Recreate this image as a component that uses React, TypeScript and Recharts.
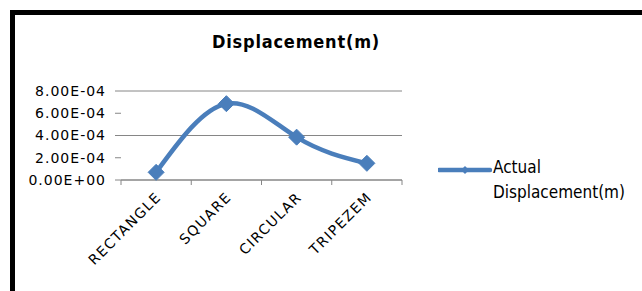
import React from 'react';
import { LineChart, Line, XAxis, YAxis, CartesianGrid } from 'recharts';

const shapes = ['RECTANGLE', 'SQUARE', 'CIRCULAR', 'TRIPEZEM'];
const displacement = [0.000069, 0.000686, 0.000385, 0.00015];
const yTicks = [0, 0.0002, 0.0004, 0.0006, 0.0008];

const BLUE = '#4A7EBB';
const GRID = '#868686';

const data = shapes.map((name, i) => ({ name, value: displacement[i] }));

// excel style: 8.00E-04
const fmtExp = (v: number) => {
  const [m, e] = v.toExponential(2).toUpperCase().split('E');
  const sign = e.startsWith('-') ? '-' : '+';
  const digits = e.replace(/[+-]/, '').padStart(2, '0');
  return `${m}E${sign}${digits}`;
};

const Diamond = (props: any) => {
  const { cx, cy } = props;
  if (cx == null || cy == null) return null;
  const r = 8;
  return (
    <polygon
      points={`${cx},${cy - r} ${cx + r},${cy} ${cx},${cy + r} ${cx - r},${cy}`}
      fill={BLUE}
      stroke={BLUE}
    />
  );
};

const XTick = (props: any) => {
  const { x, y, payload, index, visibleTicksCount, width } = props;
  const half = payload?.offset || (width && visibleTicksCount ? width / visibleTicksCount / 2 : 35);
  const tx = x + 6;
  const ty = y + 18;
  return (
    <g>
      {index === 0 && <line x1={x - half} y1={y} x2={x - half} y2={y + 5} stroke={GRID} />}
      <line x1={x + half} y1={y} x2={x + half} y2={y + 5} stroke={GRID} />
      <text
        x={tx}
        y={ty}
        textAnchor="end"
        transform={`rotate(-45, ${tx}, ${ty})`}
        fontFamily="DejaVu Sans"
        fontSize={14}
        letterSpacing={1.4}
        fill="#000"
      >
        {payload.value}
      </text>
    </g>
  );
};

export default function App() {
  return (
    <div style={{ position: 'absolute', left: 0, top: 0, width: 642, height: 291, overflow: 'hidden', background: '#fff' }}>
      <div
        style={{
          position: 'absolute',
          left: 10,
          top: 10,
          width: 700,
          height: 400,
          borderLeft: '5px solid #000',
          borderTop: '5px solid #000',
        }}
      />
      <div
        style={{
          position: 'absolute',
          left: 0,
          top: 33,
          width: 592,
          textAlign: 'center',
          fontFamily: 'DejaVu Sans Condensed',
          fontWeight: 'bold',
          fontSize: 18,
          lineHeight: '18px',
          letterSpacing: 0.8,
          color: '#000',
        }}
      >
        Displacement(m)
      </div>

      <div style={{ position: 'absolute', left: 0, top: 0 }}>
        <LineChart width={642} height={291} data={data} margin={{ top: 91, right: 240, bottom: 31, left: 0 }}>
          <CartesianGrid vertical={false} stroke={GRID} />
          <XAxis
            dataKey="name"
            scale="band"
            height={80}
            interval={0}
            axisLine={{ stroke: GRID }}
            tickLine={false}
            tickSize={0}
            tickMargin={0}
            tick={<XTick />}
          />
          <YAxis
            width={121}
            domain={[0, 0.0008]}
            ticks={yTicks}
            tickFormatter={fmtExp}
            axisLine={false}
            tickLine={{ stroke: GRID }}
            tickSize={6}
            tickMargin={9}
            tick={{ fill: '#000', fontFamily: 'DejaVu Sans', fontSize: 14, letterSpacing: 1 }}
          />
          <Line
            type="natural"
            dataKey="value"
            stroke={BLUE}
            strokeWidth={4.5}
            dot={<Diamond />}
            activeDot={false}
            isAnimationActive={false}
          />
        </LineChart>
      </div>

      <div style={{ position: 'absolute', left: 438, top: 163 }}>
        <svg width={54} height={12}>
          <line x1={1} y1={5} x2={52} y2={5} stroke={BLUE} strokeWidth={4.5} strokeLinecap="round" />
          <polygon points="27,1 31,5 27,9 23,5" fill={BLUE} />
        </svg>
      </div>
      <div
        style={{
          position: 'absolute',
          left: 493,
          top: 155,
          fontFamily: 'DejaVu Sans Condensed',
          fontSize: 17,
          lineHeight: '25px',
          color: '#000',
          whiteSpace: 'nowrap',
        }}
      >
        <div>Actual</div>
        <div>Displacement(m)</div>
      </div>
    </div>
  );
}
